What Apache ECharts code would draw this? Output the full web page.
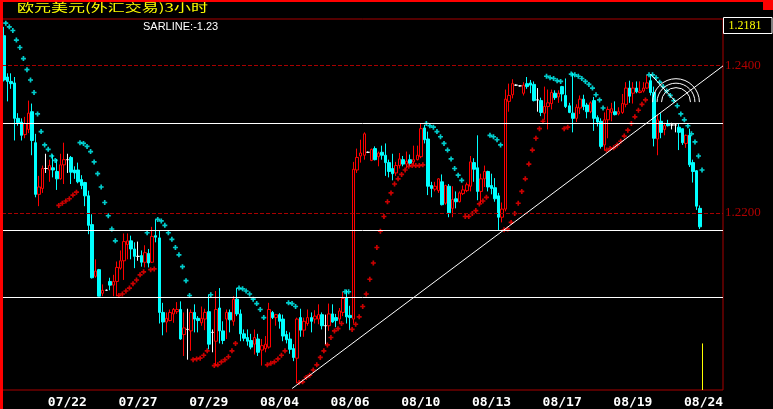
<!DOCTYPE html>
<html><head><meta charset="utf-8">
<script src="https://cdn.jsdelivr.net/npm/echarts@6/dist/echarts.min.js"></script>
<style>html,body{margin:0;padding:0;background:#000;}#c{width:773px;height:409px;}</style>
</head><body><div id="c"></div>
<script>
// ---- tick labels ----
const dates = ['07/22','07/27','07/29','08/04','08/06','08/10','08/13','08/17','08/19','08/24'];
const labelFirstBar = 18, labelStep = 20, slotCount = 204;
const priceTicks = [1.2400, 1.2200];

// ---- OHLC (3-hour bars) ----
const open = [
1.2440,1.2384,1.2378,1.2376,1.2328,1.2323,1.2306,1.2313,1.2337,1.2295,
1.2225,1.2233,1.2260,1.2258,1.2261,1.2256,1.2246,1.2265,1.2272,1.2275,
1.2258,1.2258,1.2245,1.2241,1.2223,1.2184,1.2114,1.2123,1.2091,1.2095,
1.2107,1.2102,1.2107,1.2125,1.2135,1.2157,1.2162,1.2151,1.2141,1.2142,
1.2133,1.2145,1.2133,1.2169,1.2166,1.2065,1.2052,1.2054,1.2063,1.2066,
1.2069,1.2035,1.2042,1.2040,1.2065,1.2057,1.2051,1.2056,1.2066,1.2038,
1.2026,1.2071,1.2040,1.2056,1.2065,1.2053,1.2083,1.2063,1.2036,1.2031,
1.2027,1.2022,1.2029,1.2014,1.2016,1.2018,1.2065,1.2058,1.2062,1.2056,
1.2035,1.2029,1.2016,1.2003,1.2058,1.2041,1.2050,1.2058,1.2056,1.2056,
1.2062,1.2047,1.2047,1.2063,1.2058,1.2056,1.2065,1.2085,1.2061,1.2056,
1.2258,1.2277,1.2278,1.2282,1.2271,1.2287,1.2276,1.2282,1.2278,1.2268,
1.2260,1.2254,1.2264,1.2272,1.2266,1.2272,1.2269,1.2272,1.2276,1.2315,
1.2300,1.2237,1.2232,1.2230,1.2242,1.2213,1.2236,1.2206,1.2219,1.2215,
1.2226,1.2230,1.2236,1.2268,1.2261,1.2229,1.2246,1.2256,1.2237,1.2234,
1.2223,1.2194,1.2205,1.2351,1.2360,1.2373,1.2372,1.2362,1.2375,1.2376,
1.2374,1.2353,1.2352,1.2335,1.2344,1.2348,1.2362,1.2357,1.2371,1.2359,
1.2345,1.2335,1.2328,1.2342,1.2354,1.2346,1.2337,1.2352,1.2329,1.2324,
1.2292,1.2326,1.2336,1.2337,1.2334,1.2336,1.2347,1.2369,1.2362,1.2369,
1.2363,1.2365,1.2369,1.2379,1.2363,1.2300,1.2324,1.2313,1.2321,1.2319,
1.2319,1.2316,1.2314,1.2294,1.2305,1.2268,1.2257,1.2206];
const close = [
1.2380,1.2378,1.2375,1.2328,1.2322,1.2305,1.2321,1.2335,1.2298,1.2225,
1.2235,1.2260,1.2260,1.2264,1.2258,1.2246,1.2265,1.2272,1.2272,1.2255,
1.2254,1.2242,1.2237,1.2223,1.2183,1.2112,1.2121,1.2087,1.2095,1.2095,
1.2102,1.2107,1.2126,1.2135,1.2161,1.2162,1.2151,1.2141,1.2141,1.2133,
1.2146,1.2132,1.2168,1.2167,1.2065,1.2052,1.2057,1.2065,1.2069,1.2069,
1.2029,1.2044,1.2042,1.2065,1.2056,1.2054,1.2057,1.2065,1.2022,1.2038,
1.2069,1.2040,1.2027,1.2065,1.2055,1.2083,1.2063,1.2036,1.2030,1.2026,
1.2018,1.2031,1.2011,1.2020,1.2022,1.2069,1.2058,1.2062,1.2053,1.2033,
1.2028,1.2015,1.2004,1.2056,1.2041,1.2053,1.2058,1.2053,1.2060,1.2062,
1.2047,1.2047,1.2063,1.2052,1.2054,1.2067,1.2084,1.2059,1.2058,1.2259,
1.2275,1.2281,1.2307,1.2282,1.2286,1.2272,1.2281,1.2278,1.2268,1.2256,
1.2253,1.2264,1.2273,1.2266,1.2270,1.2267,1.2272,1.2278,1.2314,1.2299,
1.2236,1.2233,1.2236,1.2246,1.2211,1.2237,1.2200,1.2218,1.2215,1.2227,
1.2231,1.2238,1.2269,1.2259,1.2229,1.2246,1.2256,1.2235,1.2233,1.2219,
1.2194,1.2205,1.2354,1.2359,1.2375,1.2373,1.2372,1.2373,1.2371,1.2373,
1.2352,1.2353,1.2336,1.2344,1.2349,1.2363,1.2356,1.2362,1.2361,1.2344,
1.2336,1.2328,1.2343,1.2354,1.2344,1.2337,1.2349,1.2328,1.2323,1.2290,
1.2326,1.2340,1.2341,1.2333,1.2337,1.2348,1.2369,1.2358,1.2369,1.2364,
1.2365,1.2369,1.2376,1.2363,1.2301,1.2326,1.2309,1.2318,1.2318,1.2319,
1.2319,1.2309,1.2295,1.2305,1.2265,1.2256,1.2209,1.2181];
const low = [
1.2378,1.2351,1.2368,1.2298,1.2318,1.2298,1.2301,1.2308,1.2278,1.2221,
1.2209,1.2227,1.2254,1.2242,1.2248,1.2231,1.2245,1.2239,1.2254,1.2239,
1.2246,1.2240,1.2232,1.2209,1.2171,1.2111,1.2112,1.2087,1.2087,1.2094,
1.2095,1.2087,1.2087,1.2123,1.2109,1.2137,1.2137,1.2125,1.2135,1.2127,
1.2126,1.2126,1.2132,1.2160,1.2050,1.2034,1.2038,1.2053,1.2051,1.2063,
1.2028,1.2006,1.2001,1.2013,1.2038,1.2038,1.2047,1.2041,1.2015,1.2011,
1.1993,1.2023,1.2022,1.2029,1.2038,1.2047,1.2060,1.2026,1.2026,1.2020,
1.2015,1.2008,1.2006,1.1993,1.2011,1.2016,1.2056,1.2047,1.2043,1.2026,
1.2023,1.2009,1.1999,1.1969,1.2032,1.2032,1.2047,1.2038,1.2050,1.2049,
1.2042,1.2021,1.2040,1.2051,1.2045,1.2050,1.2060,1.2050,1.2041,1.2050,
1.2254,1.2268,1.2272,1.2281,1.2270,1.2271,1.2263,1.2272,1.2250,1.2248,
1.2244,1.2250,1.2260,1.2263,1.2260,1.2263,1.2265,1.2271,1.2274,1.2294,
1.2224,1.2221,1.2229,1.2227,1.2210,1.2211,1.2194,1.2194,1.2206,1.2214,
1.2224,1.2228,1.2229,1.2242,1.2217,1.2213,1.2235,1.2229,1.2225,1.2215,
1.2176,1.2187,1.2202,1.2337,1.2355,1.2372,1.2371,1.2359,1.2368,1.2362,
1.2351,1.2337,1.2331,1.2326,1.2313,1.2340,1.2353,1.2349,1.2351,1.2342,
1.2335,1.2309,1.2323,1.2334,1.2339,1.2328,1.2335,1.2311,1.2317,1.2287,
1.2285,1.2301,1.2324,1.2332,1.2332,1.2334,1.2343,1.2349,1.2348,1.2362,
1.2362,1.2363,1.2368,1.2359,1.2290,1.2278,1.2301,1.2305,1.2317,1.2313,
1.2309,1.2285,1.2292,1.2288,1.2262,1.2241,1.2204,1.2178];
const high = [
1.2452,1.2389,1.2389,1.2384,1.2335,1.2328,1.2330,1.2352,1.2348,1.2307,
1.2250,1.2264,1.2280,1.2272,1.2279,1.2273,1.2280,1.2295,1.2280,1.2277,
1.2263,1.2268,1.2251,1.2242,1.2230,1.2198,1.2137,1.2124,1.2103,1.2096,
1.2112,1.2116,1.2134,1.2149,1.2172,1.2172,1.2169,1.2160,1.2161,1.2149,
1.2156,1.2151,1.2181,1.2191,1.2176,1.2078,1.2065,1.2069,1.2071,1.2079,
1.2080,1.2065,1.2070,1.2069,1.2076,1.2060,1.2073,1.2070,1.2089,1.2042,
1.2094,1.2098,1.2053,1.2069,1.2069,1.2087,1.2098,1.2069,1.2042,1.2042,
1.2036,1.2042,1.2036,1.2029,1.2033,1.2078,1.2067,1.2063,1.2064,1.2062,
1.2040,1.2038,1.2022,1.2058,1.2070,1.2058,1.2069,1.2065,1.2068,1.2076,
1.2065,1.2062,1.2077,1.2076,1.2063,1.2071,1.2093,1.2096,1.2074,1.2269,
1.2287,1.2299,1.2309,1.2283,1.2287,1.2290,1.2283,1.2291,1.2294,1.2272,
1.2280,1.2269,1.2281,1.2277,1.2283,1.2279,1.2291,1.2291,1.2321,1.2319,
1.2310,1.2242,1.2242,1.2247,1.2252,1.2238,1.2239,1.2236,1.2229,1.2229,
1.2237,1.2241,1.2277,1.2274,1.2305,1.2253,1.2264,1.2257,1.2253,1.2247,
1.2227,1.2214,1.2367,1.2375,1.2381,1.2374,1.2373,1.2377,1.2384,1.2380,
1.2378,1.2369,1.2356,1.2371,1.2367,1.2367,1.2366,1.2366,1.2372,1.2382,
1.2349,1.2390,1.2347,1.2359,1.2360,1.2349,1.2351,1.2357,1.2332,1.2328,
1.2336,1.2344,1.2349,1.2351,1.2343,1.2361,1.2377,1.2379,1.2377,1.2378,
1.2378,1.2377,1.2387,1.2388,1.2371,1.2333,1.2335,1.2322,1.2326,1.2322,
1.2321,1.2321,1.2314,1.2306,1.2314,1.2272,1.2258,1.2210];
// ---- SAR indicator ----
const sar = [
1.2457,1.2452,1.2447,1.2434,1.2424,1.2409,1.2394,1.2380,1.2363,1.2334,
1.2310,1.2292,1.2286,1.2277,1.2271,1.2210,1.2213,1.2216,1.2219,1.2224,
1.2228,1.2295,1.2294,1.2290,1.2283,1.2269,1.2253,1.2235,1.2214,1.2196,
1.2178,1.2162,1.2088,1.2090,1.2094,1.2098,1.2104,1.2109,1.2116,1.2120,
1.2173,1.2123,1.2124,1.2191,1.2189,1.2183,1.2173,1.2164,1.2153,1.2143,
1.2127,1.2108,1.2088,1.2001,1.2002,1.2003,1.2007,1.2013,1.2089,1.1993,
1.1994,1.1998,1.2001,1.2005,1.2013,1.2023,1.2098,1.2097,1.2094,1.2090,
1.2083,1.2077,1.2069,1.2058,1.1994,1.1996,1.1998,1.2002,1.2007,1.2013,
1.2078,1.2077,1.2073,1.1970,1.1971,1.1977,1.1980,1.1987,1.1994,1.2004,
1.2013,1.2021,1.2031,1.2040,1.2043,1.2050,1.2093,1.2093,1.2042,1.2049,
1.2059,1.2073,1.2090,1.2110,1.2132,1.2153,1.2175,1.2195,1.2215,1.2227,
1.2239,1.2246,1.2252,1.2258,1.2263,1.2264,1.2264,1.2264,1.2265,1.2321,
1.2318,1.2316,1.2310,1.2303,1.2294,1.2285,1.2273,1.2260,1.2251,1.2244,
1.2195,1.2195,1.2199,1.2203,1.2212,1.2216,1.2221,1.2305,1.2303,1.2299,
1.2292,1.2177,1.2178,1.2187,1.2199,1.2213,1.2229,1.2246,1.2266,1.2285,
1.2301,1.2314,1.2324,1.2385,1.2383,1.2382,1.2379,1.2378,1.2314,1.2316,
1.2388,1.2387,1.2385,1.2382,1.2378,1.2374,1.2369,1.2360,1.2353,1.2342,
1.2285,1.2287,1.2288,1.2292,1.2297,1.2304,1.2312,1.2321,1.2330,1.2339,
1.2347,1.2353,1.2387,1.2387,1.2383,1.2377,1.2371,1.2365,1.2359,1.2352,
1.2345,1.2334,1.2326,1.2318,1.2307,1.2296,1.2277,1.2258];

// ---- drawn objects (data space: bar index, price) ----
const levelLines = [1.2322, 1.2176, 1.2086];
const trendLine = [[81.6, 1.1962], [203.5, 1.2399]];
const fibFrom = [183, 1.2388], fibTo = [190.2, 1.2350];
const fibRatios = [0.382, 0.5, 0.618];
const markerBar = 197.7, markerTop = 1.2023;
const yMin = 1.19599, yMax = 1.24626;
const titleText = '欧元美元(外汇交易)3小时';
const sarLineValue = -1.23;
const lastPrice = close[close.length - 1];

const RED = '#ff0000', CYAN = '#00ffff', DARKRED = '#a80000';

const categories = Array.from({length: slotCount}, (_, i) => {
  const k = (i - labelFirstBar) / labelStep;
  return (Number.isInteger(k) && k >= 0 && k < dates.length) ? dates[k] : '';
});
const kData = open.map((o, i) => [o, close[i], low[i], high[i]]);

const chart = echarts.init(document.getElementById('c'), null, {renderer: 'canvas'});
chart.setOption({
  backgroundColor: '#000',
  animation: false,
  grid: {left: 2, right: 50, top: 19, bottom: 18, show: true, borderColor: DARKRED, borderWidth: 1, backgroundColor: 'transparent'},
  xAxis: [{
    type: 'category', data: categories, boundaryGap: true,
    axisLine: {show: false}, axisTick: {show: false}, splitLine: {show: false},
    axisLabel: {interval: 0, color: '#fff', fontFamily: 'DejaVu Sans Mono', fontWeight: 'bold', fontSize: 13, margin: 6}
  }, {
    type: 'value', min: -0.5, max: slotCount - 0.5, show: false
  }],
  yAxis: {
    type: 'value', position: 'right', min: yMin, max: yMax,
    axisLine: {show: false}, axisTick: {show: false}, splitLine: {show: false},
    axisLabel: {customValues: priceTicks, formatter: v => v.toFixed(4), color: '#b00000', fontFamily: 'Liberation Sans Narrow', fontSize: 13, margin: 2}
  },
  series: [{
    type: 'candlestick', data: kData, barWidth: 3, silent: true,
    itemStyle: {color: '#000', color0: CYAN, borderColor: RED, borderColor0: CYAN, borderColorDoji: '#fff', borderWidth: 1},
    markLine: {silent: true, precision: 6, symbol: ['none', 'none'], label: {show: false},
      lineStyle: {color: DARKRED, type: [4, 2], width: 1},
      data: priceTicks.map(v => ({yAxis: v}))}
  }, {
    type: 'scatter', data: sar, silent: true, z: 4,
    symbol: 'path://M1 0h1v1h1v1h-1v1h-1v-1h-1v-1h1z', symbolSize: 5, symbolOffset: [2, 0],
    itemStyle: {color: p => sar[p.dataIndex] > close[p.dataIndex] ? CYAN : RED}
  }, {
    type: 'line', xAxisIndex: 1, data: trendLine, symbol: 'none', silent: true, z: 5,
    lineStyle: {color: '#fff', width: 1},
    markLine: {silent: true, precision: 6, symbol: ['none', 'none'], label: {show: false},
      lineStyle: {color: '#fff', type: 'solid', width: 1},
      data: levelLines.map(v => ({yAxis: v}))}
  }, {
    type: 'line', xAxisIndex: 1, data: [[markerBar, markerTop], [markerBar, yMin]], symbol: 'none', silent: true, z: 5,
    lineStyle: {color: '#ffff00', width: 1}
  }, {
    type: 'custom', xAxisIndex: 1, silent: true, z: 6,
    data: [[fibFrom[0], fibFrom[1], fibTo[0], fibTo[1]]],
    encode: {x: [0, 2], y: [1, 3]},
    renderItem: (params, api) => {
      const p1 = api.coord([api.value(0), api.value(1)]);
      const p2 = api.coord([api.value(2), api.value(3)]);
      const d = Math.hypot(p2[0] - p1[0], p2[1] - p1[1]);
      const children = [{type: 'line', shape: {x1: p1[0], y1: p1[1], x2: p2[0], y2: p2[1]}, style: {stroke: '#fff', lineWidth: 1}}];
      fibRatios.forEach(r => children.push({type: 'arc', shape: {cx: p2[0], cy: p2[1], r: d * r, startAngle: Math.PI, endAngle: Math.PI * 2}, style: {stroke: '#fff', fill: null, lineWidth: 1}}));
      return {type: 'group', children};
    }
  }],
  graphic: [
    {type: 'rect', z: 100, shape: {x: 0, y: 0, width: 3, height: 409}, style: {fill: RED}},
    {type: 'rect', z: 100, shape: {x: 0, y: 0, width: 773, height: 2}, style: {fill: RED}},
    {type: 'rect', z: 100, shape: {x: 763, y: 0, width: 10, height: 10}, style: {fill: RED}},
    {type: 'text', z: 100, x: 17, y: 2, scaleY: 0.68, style: {text: titleText, fill: '#ffff00', font: '17px "Noto Sans CJK SC"', verticalAlign: 'top'}},
    {type: 'text', z: 100, x: 143, y: 26.5, style: {text: 'SARLINE:' + sarLineValue.toFixed(2), fill: '#fff', font: '11px "Liberation Sans"', verticalAlign: 'middle'}},
    {type: 'rect', z: 100, shape: {x: 723.5, y: 17.5, width: 48.5, height: 16}, style: {fill: '#000', stroke: '#fff', lineWidth: 1}},
    {type: 'text', z: 101, x: 745, y: 25.5, style: {text: lastPrice.toFixed(4), fill: '#ffff00', font: '12px "Liberation Sans Narrow"', align: 'center', verticalAlign: 'middle'}}
  ]
});
</script>
</body></html>
